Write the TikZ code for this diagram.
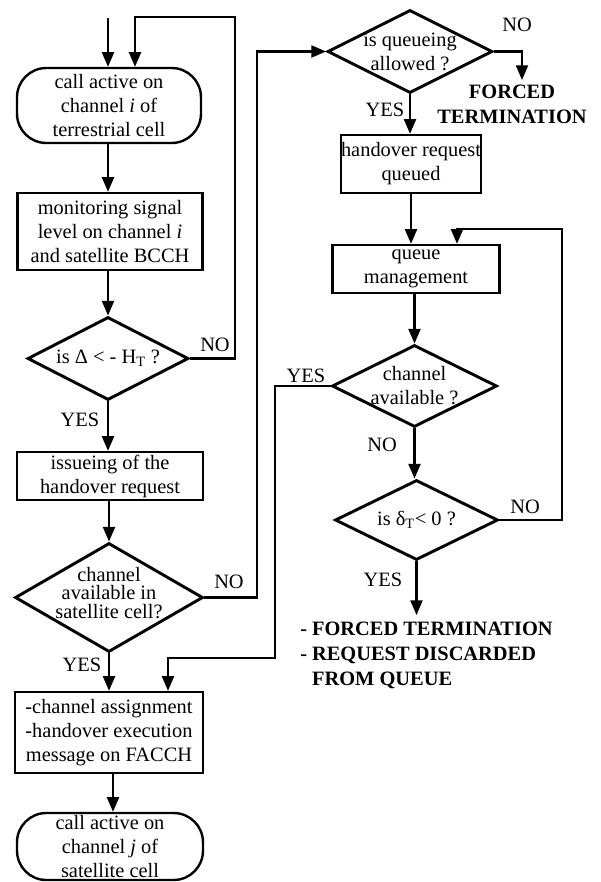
\documentclass[tikz,border=0pt]{standalone}
\usepackage{fontspec}
\setmainfont{Liberation Serif}
\usetikzlibrary{shapes.geometric,arrows.meta}
\begin{document}
\begin{tikzpicture}[x=0.75pt,y=-0.75pt,
  txt/.style={font=\fontsize{15.3}{18}\selectfont, align=center},
  boxn/.style={txt, draw, line width=1.8pt, inner sep=0pt},
  term/.style={boxn, rounded corners=22pt},
  dia/.style={draw, diamond, line width=2.2pt, inner sep=0pt},
  conn/.style={line width=1.6pt},
  arr/.style={conn, -{Triangle[length=11pt,width=9pt]}},
  lab/.style={font=\fontsize{15.3}{18}\selectfont, inner sep=0pt},
  bold/.style={font=\fontsize{15.3}{18.75}\selectfont\bfseries, inner sep=0pt}
]
\useasboundingbox (0,0) rectangle (600,882);

% left column
\node[term, minimum width=138pt, minimum height=56.25pt] (t1) at (109,105.5)
  {call active on\\channel \textit{i} of\\terrestrial cell};
\node[boxn, minimum width=138.75pt, minimum height=57.75pt] (b2) at (110,231.5)
  {monitoring signal\\level on channel \textit{i}\\and satellite BCCH};
\node[dia, minimum width=120.75pt, minimum height=62.25pt,
  label={[txt]center:is Δ < - H\textsubscript{T} ?}] (d1) at (108,358.5) {};
\node[boxn, minimum width=139.5pt, minimum height=36pt] (b3) at (110,476)
  {issueing of the\\handover request};
\node[dia, minimum width=141pt, minimum height=81.75pt,
  label={[txt, font=\fontsize{15.3}{14}\selectfont, yshift=3.4pt]center:channel\\available in\\satellite cell?}] (d2) at (109,597.5) {};
\node[boxn, minimum width=141pt, minimum height=60.75pt] (b6) at (109,732.5)
  {-channel assignment\\-handover execution\\message on FACCH};
\node[term, minimum width=139.5pt, minimum height=50.25pt] (t2) at (110,846.5)
  {call active on\\channel \textit{j} of\\satellite cell};

% right column
\node[dia, minimum width=123.75pt, minimum height=62.25pt,
  label={[txt]center:is queueing\\allowed ?}] (d3) at (410,51.5) {};
\node[boxn, minimum width=103.5pt, minimum height=43.5pt] (b4) at (411,164)
  {handover request\\queued};
\node[boxn, minimum width=125.25pt, minimum height=36pt] (b5) at (416,269)
  {queue\\management};
\node[dia, minimum width=123.75pt, minimum height=61.5pt,
  label={[txt]center:channel\\available ?}] (d4) at (414.5,386) {};
\node[dia, minimum width=122.25pt, minimum height=60pt,
  label={[txt]center:is δ\textsubscript{T}< 0 ?}] (d5) at (416.5,520) {};

\node[bold, align=center] (ft1) at (512,104) {FORCED\\TERMINATION};
\node[bold, align=left, anchor=west] (ft2) at (300,655)
  {- FORCED TERMINATION\\- REQUEST DISCARDED\\\phantom{- }FROM QUEUE};

% coordinates
\coordinate (in1) at (108,18);
\coordinate (in2) at (135,17);
\coordinate (l1) at (235,17);
\coordinate (l2) at (257,0);
\coordinate (l3) at (275,658);
\coordinate (l4) at (168,658);
\coordinate (l5) at (562,229);
\coordinate (l6) at (457,229);
\coordinate (e1) at (522,80);
\coordinate (e2) at (416.5,615);

% connectors left
\draw[arr] (in1) -- (in1 |- t1.north);
\draw[arr] (d1.east) -- (d1.east -| l1) -- (l1) -- (in2) -- (in2 |- t1.north);
\draw[arr] (t1.south -| 108,0) -- (b2.north -| 108,0);
\draw[arr] (d1.north |- b2.south) -- (d1.north);
\draw[arr] (d1.south) -- (b3.north -| d1.south);
\draw[arr] (d2.north |- b3.south) -- (d2.north);
\draw[arr] (d2.south) -- (b6.north -| d2.south);
\draw[arr] (b6.south -| 113,0) -- (t2.north -| 113,0);
\draw[arr] (d2.east) -- (d2.east -| l2) -- (l2 |- d3.west) -- (d3.west);

% connectors right
\draw[arr] (d3.east) -| (e1);
\draw[arr] (d3.south) -- (b4.north -| d3.south);
\draw[arr] (b4.south) -- (b5.north -| b4.south);
\draw[arr] (d4.north |- b5.south) -- (d4.north);
\draw[arr] (d4.west) -| (l3) -- (l4) -- (l4 |- b6.north);
\draw[arr] (d4.south) -- (d5.north -| d4.south);
\draw[arr] (d5.east) -| (l5) -- (l6) -- (l6 |- b5.north);
\draw[arr] (d5.south) -- (e2);

% labels
\node[lab] (n1) at (215,345) {NO};
\node[lab] (y1) at (80,420) {YES};
\node[lab] (n2) at (229,582) {NO};
\node[lab] (y2) at (82,665) {YES};
\node[lab] (n3) at (517,25) {NO};
\node[lab] (y3) at (385,110) {YES};
\node[lab] (y4) at (306,376) {YES};
\node[lab] (n4) at (382,445) {NO};
\node[lab] (n5) at (525,507) {NO};
\node[lab] (y5) at (383,580) {YES};
\end{tikzpicture}
\end{document}
